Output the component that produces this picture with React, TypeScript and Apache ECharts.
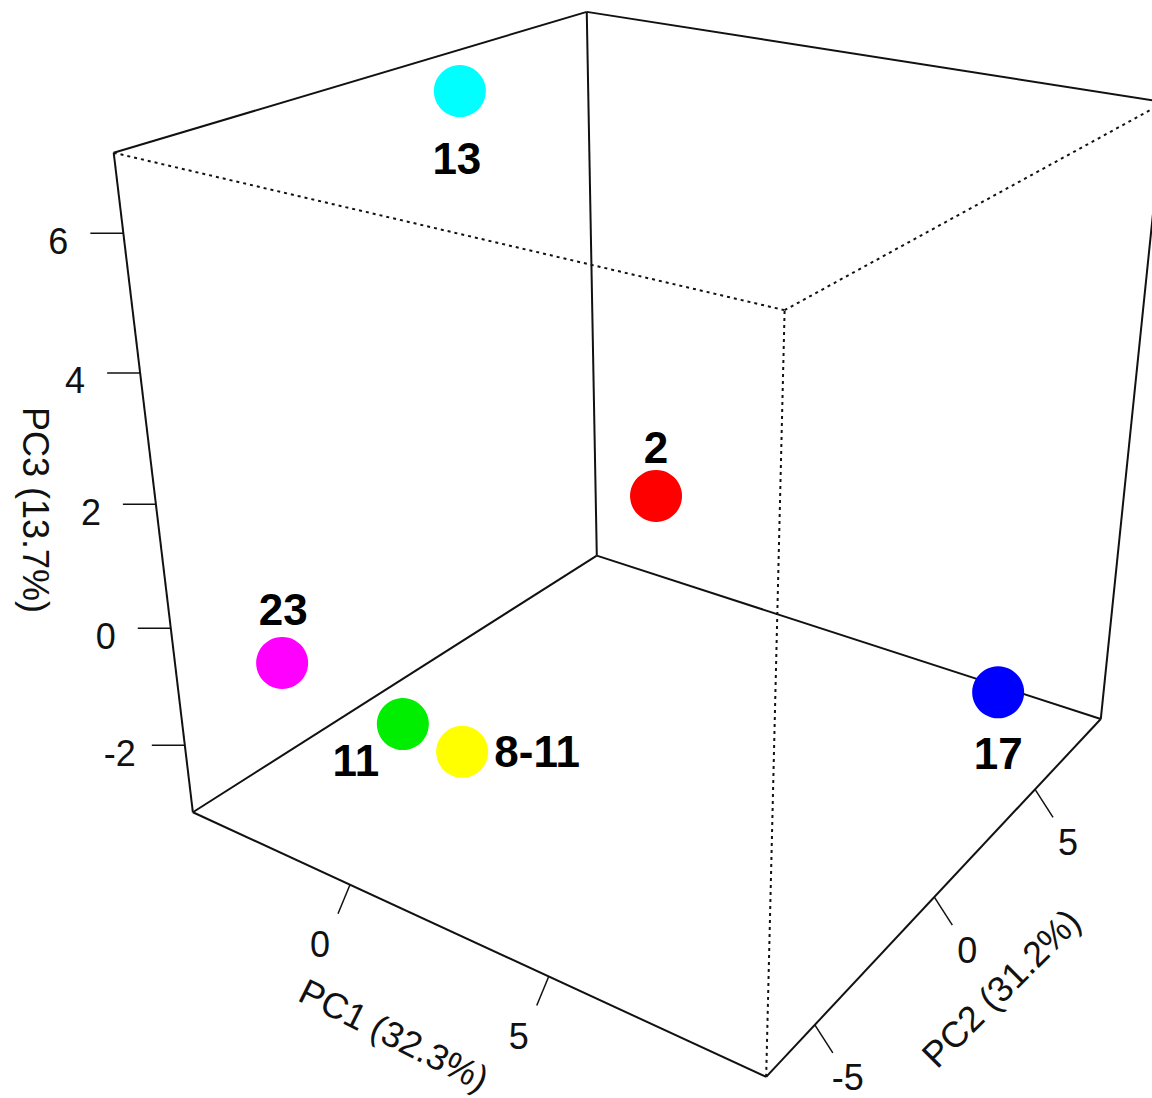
import React, { useEffect, useRef } from "react";
import * as echarts from "echarts";

// ---------- data ----------
const sampleNames = ["13", "2", "23", "11", "8-11", "17"];
const pc1Values = [-3.12, -1.73, -2.62, -0.71, 0.87, 7.95];
const pc2Values = [2.0, 7.5, -5.5, -4.0, -4.0, 7.0];
const pc3Values = [6.83, -1.08, -0.56, -1.63, -1.7, -2.57];
const pointColors = ["#00FFFF", "#FF0000", "#FF00FF", "#00EE00", "#FFFF00", "#0000FF"];

const pc1Ticks = [0, 5];
const pc2Ticks = [-5, 0, 5];
const pc3Ticks = [-2, 0, 2, 4, 6];
const pc1Range = [-4.45, 9.8];
const pc2Range = [-6.8, 8.75];
const pc3Range = [-3.2, 7.1];
const axisTitles = ["PC1 (32.3%)", "PC2 (31.2%)", "PC3 (13.7%)"];

// ---------- layout (perspective view: where the box corners / tick anchors sit on screen) ----------
const W = 1152;
const H = 1098;
const cornerScreen: Record<string, number[]> = {
  "000": [193, 809], "100": [763, 1078], "010": [595, 554], "110": [1102, 719],
  "001": [114, 153], "101": [785, 310], "011": [589, 13], "111": [1163, 101],
};
const tickScreen = {
  pc1: [[354, 887], [547, 977]],
  pc2: [[819, 1020], [933, 898], [1035, 792]],
  pc3: [[185, 747], [170, 629], [155, 505], [139, 373], [123, 232]],
};
const edges: [string, string, boolean][] = [
  ["000", "100", false], ["100", "110", false], ["000", "010", false], ["010", "110", false],
  ["000", "001", false], ["010", "011", false], ["110", "111", false],
  ["001", "011", false], ["011", "111", false],
  ["001", "101", true], ["101", "111", true], ["100", "101", true],
];
const labelOffsets = [[-3, 67], [0, -48], [1, -53], [-47, 36], [75, 0], [0, 61]];
const FONT = "'Liberation Sans', Arial, Helvetica, sans-serif";

function solveLinear(A: number[][], b: number[]): number[] {
  const n = b.length;
  const M = A.map((row, i) => [...row, b[i]]);
  for (let c = 0; c < n; c++) {
    let piv = c;
    for (let r = c + 1; r < n; r++) if (Math.abs(M[r][c]) > Math.abs(M[piv][c])) piv = r;
    const tmp = M[c]; M[c] = M[piv]; M[piv] = tmp;
    for (let r = 0; r < n; r++) {
      if (r === c) continue;
      const f = M[r][c] / M[c][c];
      for (let k = c; k <= n; k++) M[r][k] -= f * M[c][k];
    }
  }
  return M.map((row, i) => row[n] / row[i]);
}

const frac = (v: number, r: number[]) => (v - r[0]) / (r[1] - r[0]);

// perspective camera fitted to the box frame (least squares DLT)
function buildCamera(): number[] {
  const corr: [number[], number[]][] = [];
  Object.keys(cornerScreen).forEach((k) => corr.push([[+k[0], +k[1], +k[2]], cornerScreen[k]]));
  pc1Ticks.forEach((t, i) => corr.push([[frac(t, pc1Range), 0, 0], tickScreen.pc1[i]]));
  pc2Ticks.forEach((t, i) => corr.push([[1, frac(t, pc2Range), 0], tickScreen.pc2[i]]));
  pc3Ticks.forEach((t, i) => corr.push([[0, 0, frac(t, pc3Range)], tickScreen.pc3[i]]));
  const N = 11;
  const ATA = Array.from({ length: N }, () => new Array(N).fill(0));
  const ATb = new Array(N).fill(0);
  const add = (row: number[], b: number) => {
    for (let i = 0; i < N; i++) {
      ATb[i] += row[i] * b;
      for (let j = 0; j < N; j++) ATA[i][j] += row[i] * row[j];
    }
  };
  corr.forEach(([[X, Y, Z], [px, py]]) => {
    const u = px / 1000, v = py / 1000;
    add([X, Y, Z, 1, 0, 0, 0, 0, -u * X, -u * Y, -u * Z], u);
    add([0, 0, 0, 0, X, Y, Z, 1, -v * X, -v * Y, -v * Z], v);
  });
  return solveLinear(ATA, ATb);
}

const CAM = buildCamera();

function projectFrac(X: number, Y: number, Z: number): number[] {
  const P = CAM;
  const d = P[8] * X + P[9] * Y + P[10] * Z + 1;
  return [
    ((P[0] * X + P[1] * Y + P[2] * Z + P[3]) / d) * 1000,
    ((P[4] * X + P[5] * Y + P[6] * Z + P[7]) / d) * 1000,
  ];
}
function project(a: number, b: number, c: number): number[] {
  return projectFrac(frac(a, pc1Range), frac(b, pc2Range), frac(c, pc3Range));
}
function cornerPoint(k: string): number[] {
  return projectFrac(+k[0], +k[1], +k[2]);
}

type TickItem = { axis: number; value: number };
const tickItems: TickItem[] = [
  ...pc1Ticks.map((v) => ({ axis: 0, value: v })),
  ...pc2Ticks.map((v) => ({ axis: 1, value: v })),
  ...pc3Ticks.map((v) => ({ axis: 2, value: v })),
];
const tickVec = [[-12, 29], [18, 28], [-33, 0]];
const tickLabelOff = [[-30, 60], [33, 53], [-65, 8]];

function tickAnchor(t: TickItem): number[] {
  if (t.axis === 0) return project(t.value, pc2Range[0], pc3Range[0]);
  if (t.axis === 1) return project(pc1Range[1], t.value, pc3Range[0]);
  return project(pc1Range[0], pc2Range[0], t.value);
}

export default function App() {
  const ref = useRef<HTMLDivElement>(null);
  useEffect(() => {
    if (!ref.current) return;
    const chart = echarts.init(ref.current, undefined, { renderer: "svg" });
    const textStyle = (text: string, size: number, weight: string) => ({
      text,
      fill: "#111",
      font: `${weight} ${size}px ${FONT}`,
      align: "center",
      verticalAlign: "middle",
      textAlign: "center",
      textVerticalAlign: "middle",
    });
    const option: any = {
      animation: false,
      backgroundColor: "#ffffff",
      grid: { left: 0, right: 0, top: 0, bottom: 0 },
      xAxis: { type: "value", min: 0, max: W, show: false },
      yAxis: { type: "value", min: 0, max: H, inverse: true, show: false },
      series: [
        {
          type: "custom",
          name: "box",
          silent: true,
          data: edges.map((_, i) => [i, 0]),
          renderItem: (params: any, api: any) => {
            const e = edges[params.dataIndex];
            const a = api.coord(cornerPoint(e[0]));
            const b = api.coord(cornerPoint(e[1]));
            return {
              type: "line",
              shape: { x1: a[0], y1: a[1], x2: b[0], y2: b[1] },
              style: { stroke: "#111", lineWidth: 2, lineDash: e[2] ? [3, 4] : null },
            };
          },
        },
        {
          type: "custom",
          name: "ticks",
          silent: true,
          data: tickItems.map((_, i) => [i, 0]),
          renderItem: (params: any, api: any) => {
            const t = tickItems[params.dataIndex];
            const p = api.coord(tickAnchor(t));
            const v = tickVec[t.axis];
            const o = tickLabelOff[t.axis];
            return {
              type: "group",
              children: [
                {
                  type: "line",
                  shape: { x1: p[0], y1: p[1], x2: p[0] + v[0], y2: p[1] + v[1] },
                  style: { stroke: "#111", lineWidth: 1.5 },
                },
                {
                  type: "text",
                  x: p[0] + o[0],
                  y: p[1] + o[1],
                  style: textStyle(String(t.value), 36, "normal"),
                },
              ],
            };
          },
        },
        {
          type: "scatter",
          name: "samples",
          symbol: "circle",
          symbolSize: 52,
          itemStyle: { opacity: 1 },
          data: sampleNames.map((n, i) => ({
            name: n,
            value: project(pc1Values[i], pc2Values[i], pc3Values[i]),
            itemStyle: { color: pointColors[i], opacity: 1 },
            label: {
              show: true,
              position: "inside",
              offset: labelOffsets[i],
              formatter: "{b}",
              fontSize: 44,
              fontWeight: "bold",
              fontFamily: FONT,
              color: "#000",
            },
          })),
        },
      ],
      graphic: [
        { type: "text", x: 394, y: 1035, rotation: -0.464, style: textStyle(axisTitles[0], 36, "normal") },
        { type: "text", x: 1001, y: 988, rotation: 0.785, style: textStyle(axisTitles[1], 36, "normal") },
        { type: "text", x: 35, y: 510, rotation: -Math.PI / 2, style: textStyle(axisTitles[2], 36, "normal") },
      ],
    };
    chart.setOption(option);
    return () => chart.dispose();
  }, []);
  return <div ref={ref} style={{ position: "fixed", left: 0, top: 0, width: W, height: H }} />;
}
